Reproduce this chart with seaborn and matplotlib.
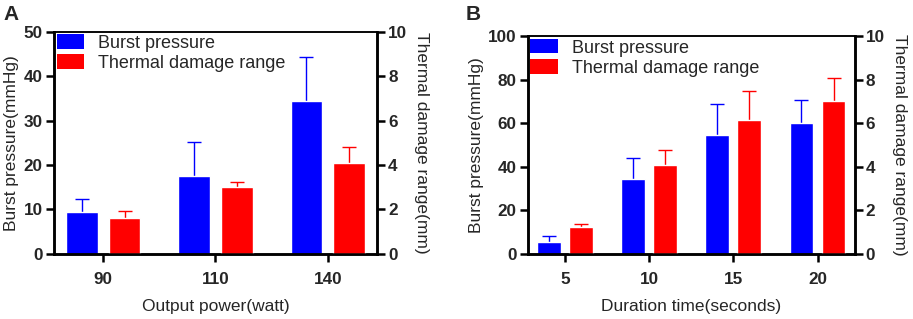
import matplotlib
matplotlib.use("Agg")
import matplotlib.pyplot as plt
from matplotlib.patches import Patch
import numpy as np
import pandas as pd
import seaborn as sns

# panel A: output power
power = ['90', '110', '140']
burst_a = [9.5, 17.6, 34.3]
burst_a_sd = [2.8, 7.5, 9.9]
thermal_a = [1.61, 3.0, 4.07]
thermal_a_sd = [0.33, 0.23, 0.72]

# panel B: duration time
duration = ['5', '10', '15', '20']
burst_b = [5.4, 34.4, 54.7, 60.4]
burst_b_sd = [2.7, 9.7, 14.1, 10.4]
thermal_b = [1.26, 4.07, 6.16, 7.05]
thermal_b_sd = [0.11, 0.71, 1.34, 1.05]

series = ['Burst pressure', 'Thermal damage range']
colors = ['#0000FF', '#FF0000']

sns.set_style("ticks")
plt.rcParams['font.family'] = ['Liberation Sans', 'DejaVu Sans']

fig = plt.figure(figsize=(9.13, 3.19), dpi=100)
ax_a = fig.add_axes([0.059, 0.204, 0.354, 0.697])
ax_b = fig.add_axes([0.578, 0.204, 0.358, 0.682])


def draw_panel(ax, cats, left, left_sd, right, right_sd, ytop, xlabel):
    ax2 = ax.twinx()
    df_l = pd.DataFrame({'cat': cats, 'value': left, 'series': series[0]})
    df_r = pd.DataFrame({'cat': cats, 'value': right, 'series': series[1]})
    for a, df, sd, col in [(ax, df_l, left_sd, colors[0]), (ax2, df_r, right_sd, colors[1])]:
        sns.barplot(data=df, x='cat', y='value', hue='series', hue_order=series,
                    palette=colors, width=0.76, gap=0.26, dodge=True, errorbar=None,
                    saturation=1, legend=False, ax=a, order=cats)
        bars = sorted(a.patches, key=lambda p: p.get_x())
        xs = [p.get_x() + p.get_width() / 2 for p in bars]
        _, caps, _ = a.errorbar(xs, df['value'], yerr=[np.zeros(len(sd)), sd],
                                fmt='none', ecolor=col, elinewidth=1.0,
                                capsize=4.7, capthick=1.0, zorder=0.5)
        # only the upper cap is drawn, as in the original figure
        caps[0].set_visible(False)
    ax.set_xlim(-0.44, len(cats) - 1 + 0.44)
    ax.set_ylim(0, ytop)
    ax2.set_ylim(0, 10)
    ax.set_yticks(np.linspace(0, ytop, 6))
    ax2.set_yticks([0, 2, 4, 6, 8, 10])
    ax.set_xlabel(xlabel, fontsize=12.5, labelpad=9)
    ax.set_ylabel('Burst pressure(mmHg)', fontsize=12.5, labelpad=3)
    ax2.set_ylabel('Thermal damage range(mm)', fontsize=12.5, rotation=270,
                   va='bottom', labelpad=5)
    for a in (ax, ax2):
        for s in a.spines.values():
            s.set_linewidth(1.8)
            s.set_color('black')
        a.spines['top'].set_linewidth(1.1)
        a.tick_params(width=1.8, length=6, labelsize=12.3, color='black')
        a.tick_params(axis='x', pad=7)
        a.tick_params(axis='y', pad=2)
        for t in a.get_xticklabels() + a.get_yticklabels():
            t.set_fontweight('bold')
    handles = [Patch(facecolor=c, edgecolor='none') for c in colors]
    ax.legend(handles, series, loc='upper left', frameon=False, fontsize=13,
              handlelength=1.5, handleheight=0.85, borderaxespad=0.05,
              borderpad=0.1, labelspacing=0.15, handletextpad=0.8)
    return ax2


draw_panel(ax_a, power, burst_a, burst_a_sd, thermal_a, thermal_a_sd, 50,
           'Output power(watt)')
draw_panel(ax_b, duration, burst_b, burst_b_sd, thermal_b, thermal_b_sd, 100,
           'Duration time(seconds)')

fig.text(0.004, 0.985, 'A', fontsize=15, fontweight='bold', va='top')
fig.text(0.510, 0.985, 'B', fontsize=15, fontweight='bold', va='top')

fig.savefig('out.png', dpi=100)
